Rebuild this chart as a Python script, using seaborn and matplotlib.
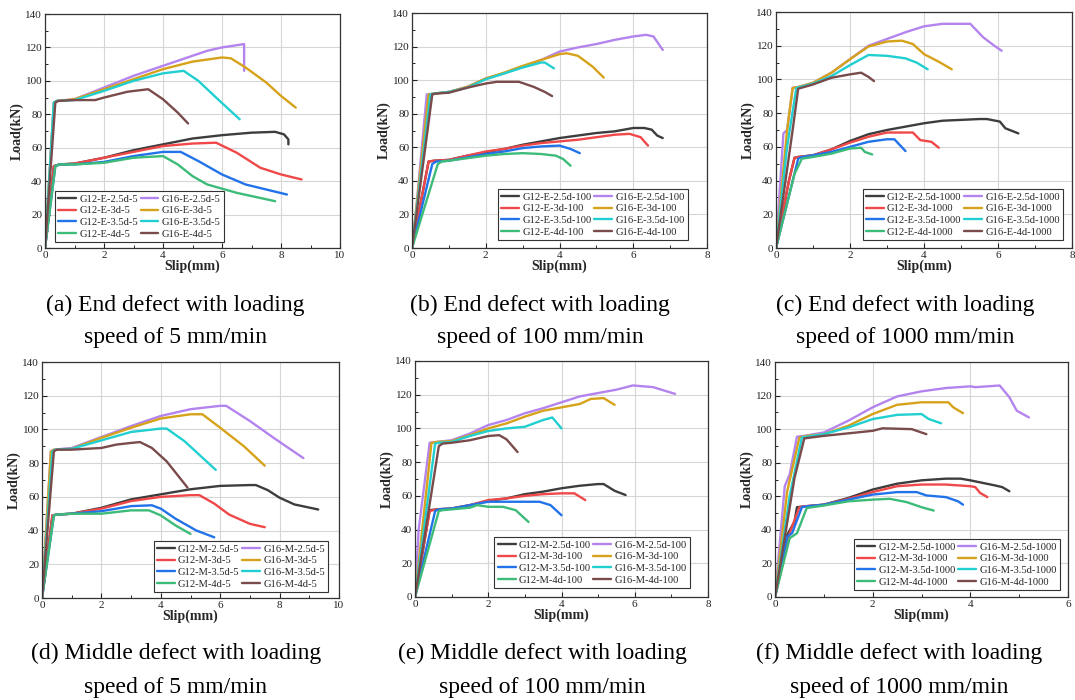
import matplotlib
matplotlib.use("Agg")
import matplotlib.pyplot as plt
from matplotlib.ticker import MultipleLocator
import seaborn as sns
import pandas as pd

# ---------------- data: (slip mm, load kN) ----------------
# (a) End defect, 5 mm/min
E5_G12_25 = [(0,0),(0.3,49),(0.5,50),(1,50.5),(2,54),(3,58.5),(4,62),(5,65.5),(6,67.5),(7,69),(7.8,69.5),(8.1,68),(8.25,65),(8.25,62)]
E5_G12_3 = [(0,0),(0.3,49),(0.5,50),(1,50.5),(2,54),(3,57.5),(4,61),(5,62.5),(5.8,63),(6.5,57),(7.3,48),(8,44),(8.7,41)]
E5_G12_35 = [(0,0),(0.35,49),(0.5,50),(1,50),(2,51.5),(3,55),(4,57.5),(4.6,57.5),(5.2,52),(6,44),(6.8,38),(7.5,35),(8.2,32)]
E5_G12_4 = [(0,0),(0.35,49),(0.5,50),(1,50),(2,51),(3,54),(4,55),(4.5,50),(5,43),(5.5,38),(6.5,33),(7.8,28)]
E5_G16_25 = [(0,0),(0.3,87),(0.4,88),(1,89),(2,96),(3,103),(4,109),(5,115),(5.5,118),(6,120),(6.75,122),(6.75,106)]
E5_G16_3 = [(0,0),(0.3,87),(0.4,88),(1,89),(2,95),(3,101),(4,107),(5,111.5),(6,114),(6.3,113.5),(6.8,108),(7.5,99),(8,91),(8.5,84)]
E5_G16_35 = [(0,0),(0.3,87),(0.4,88),(1,88.5),(2,94),(3,100),(4,104.5),(4.7,106),(5.2,100),(5.8,90),(6.6,77)]
E5_G16_4 = [(0,0),(0.35,87),(0.45,88),(1,88.5),(1.7,88.5),(2,90),(2.8,93.5),(3.5,95),(4,89),(4.5,81),(4.85,74.5)]

# (b) End defect, 100 mm/min
E100_G12_25 = [(0,0),(0.45,51.5),(0.6,52),(1,52.5),(1.5,55),(2,57),(2.5,59),(3,61.5),(3.5,63.5),(4,65.5),(4.5,67),(5,68.5),(5.5,69.5),(6,71.5),(6.3,71.5),(6.5,70.5),(6.65,67),(6.8,65.5)]
E100_G12_3 = [(0,0),(0.45,51.5),(0.6,52),(1,52.5),(1.5,55),(2,57.5),(2.5,59),(3,61),(3.5,62.5),(4,63.5),(4.5,64.5),(5,66),(5.5,67.5),(5.9,68),(6.2,66),(6.4,61)]
E100_G12_35 = [(0,0),(0.55,50),(0.65,51.5),(1,52),(1.5,54),(2,56),(2.5,57.5),(3,59.5),(3.5,60.5),(4,61),(4.3,59),(4.55,56.5)]
E100_G12_4 = [(0,0),(0.7,50),(0.8,51.5),(1,52),(1.5,53.5),(2,55),(2.5,56),(3,56.5),(3.5,56),(3.9,55),(4.1,53),(4.3,49)]
E100_G16_25 = [(0,0),(0.1,20),(0.4,91.5),(0.6,92),(1,93),(1.5,96),(2,101),(2.5,104),(3,108),(3.5,112),(4,117),(4.5,119.5),(5,121.5),(5.5,124),(6,126),(6.35,127),(6.55,126),(6.8,118)]
E100_G16_3 = [(0,0),(0.45,91.5),(0.6,92),(1,93),(1.5,96),(2,101),(2.5,104.5),(3,108.5),(3.5,112),(4,115.5),(4.2,116),(4.5,114.5),(4.9,108),(5.2,101.5)]
E100_G16_35 = [(0,0),(0.5,91.5),(0.6,92),(1,93),(1.5,95.5),(2,100.5),(2.5,104),(3,107.5),(3.5,110.5),(3.6,110.5),(3.85,107)]
E100_G16_4 = [(0,0),(0.55,91.5),(0.65,92),(1,92.5),(1.5,95.5),(2,98),(2.3,99),(2.9,99),(3.3,96),(3.6,93),(3.8,90.5)]

# (c) End defect, 1000 mm/min
E1000_G12_25 = [(0,0),(0.35,40),(0.5,53.5),(0.6,54),(1,55),(1.5,58.5),(2,63.5),(2.5,67.5),(3,70),(3.5,72),(4,74),(4.5,75.5),(5,76),(5.5,76.5),(5.7,76.5),(6.05,75),(6.2,71),(6.55,68)]
E1000_G12_3 = [(0,0),(0.35,40),(0.5,53.5),(0.6,54),(1,55),(1.5,58.5),(2,62.5),(2.5,66),(3,68.5),(3.3,68.5),(3.7,68.5),(3.9,64),(4.2,63),(4.4,59.5)]
E1000_G12_35 = [(0,0),(0.6,53),(0.7,54),(1,55),(1.5,57),(2,60),(2.5,63),(3,64.5),(3.2,64.5),(3.5,57.5)]
E1000_G12_4 = [(0,0),(0.5,44),(0.7,53),(1,54),(1.5,56),(2,59),(2.3,59.5),(2.4,57),(2.6,55.5)]
E1000_G16_25 = [(0,0),(0.2,68),(0.3,70),(0.45,95),(0.6,95.5),(1,98),(1.5,104),(2,112),(2.5,120),(3,124),(3.5,128),(4,131.5),(4.5,133),(5,133),(5.25,133),(5.6,125),(5.9,120),(6.1,117)]
E1000_G16_3 = [(0,0),(0.3,70),(0.45,95),(0.6,95.5),(1,98),(1.5,104),(2,112),(2.5,119.5),(3,122.5),(3.4,123),(3.7,121),(4,115),(4.4,110.5),(4.75,106)]
E1000_G16_35 = [(0,0),(0.3,60),(0.55,95),(0.65,95.5),(1,97.5),(1.5,102),(2,108.5),(2.5,114.5),(3,114),(3.5,112.5),(3.8,110),(4.1,106)]
E1000_G16_4 = [(0,0),(0.45,70),(0.6,94.5),(1,97),(1.5,101),(2,103),(2.3,104),(2.5,101.5),(2.65,99)]

# (d) Middle defect, 5 mm/min
M5_G12_25 = [(0,0),(0.35,49),(0.5,49.5),(1,50),(2,53.5),(3,58.5),(4,61.5),(5,64.5),(6,66.5),(7,67),(7.2,67),(7.6,64),(8,59.5),(8.5,55.5),(9.3,52.5)]
M5_G12_3 = [(0,0),(0.35,49),(0.5,49.5),(1,50),(2,53),(3,57.5),(4,60),(5,61),(5.3,61),(5.8,56),(6.3,49.5),(7,44),(7.5,42)]
M5_G12_35 = [(0,0),(0.4,49),(0.5,49.5),(1,50),(2,51.5),(3,54.5),(3.7,55),(4,53),(4.5,47),(5.2,40),(5.8,36)]
M5_G12_4 = [(0,0),(0.4,49),(0.5,49.5),(1,50),(2,50),(3,52),(3.6,52),(4,49),(4.5,43),(5,38)]
M5_G16_25 = [(0,0),(0.3,87),(0.4,88),(1,89),(2,95.5),(3,102),(4,108),(5,112),(6,114),(6.2,114),(7,105),(7.8,95),(8.8,83)]
M5_G16_3 = [(0,0),(0.3,87),(0.4,88),(1,88.5),(2,95),(3,101),(4,106.5),(5,109),(5.4,109),(6,101),(6.8,90),(7.5,78.5)]
M5_G16_35 = [(0,0),(0.35,87),(0.45,88),(1,88.5),(2,93.5),(3,98.5),(4,100.5),(4.2,100.5),(4.8,93),(5.85,76)]
M5_G16_4 = [(0,0),(0.4,87),(0.5,88),(1,88),(2,89),(2.5,91),(3,92),(3.3,92.5),(3.7,89),(4.2,81),(4.9,65.5)]

# (e) Middle defect, 100 mm/min
M100_G12_25 = [(0,0),(0.4,51.5),(0.6,52),(1,52.5),(1.5,54.5),(2,57),(2.5,58.5),(3,61),(3.5,62.5),(4,64.5),(4.5,66),(5,67),(5.15,67),(5.45,63),(5.75,60.5)]
M100_G12_3 = [(0,0),(0.4,51),(0.6,52),(1,52.5),(1.5,54.5),(2,57.5),(2.5,58.5),(3,60),(3.5,61),(4,61.5),(4.35,61.5),(4.65,57.5)]
M100_G12_35 = [(0,0),(0.55,51),(0.65,52),(1,52.5),(1.5,54.5),(2,56.5),(2.5,56.5),(3,56.5),(3.4,56.5),(3.7,54.5),(4.0,48.5)]
M100_G12_4 = [(0,0),(0.65,51),(0.75,51.5),(1,52),(1.5,53),(1.7,54.5),(2,53.5),(2.4,53.5),(2.75,51.5),(3.1,44.5)]
M100_G16_25 = [(0,0),(0.1,40),(0.4,91.5),(0.6,92),(1,93),(1.5,97),(2,102),(2.5,105),(3,109),(3.5,112),(4,115.5),(4.5,119),(5,121),(5.5,123),(5.95,125.5),(6.5,124.5),(7.1,120.5)]
M100_G16_3 = [(0,0),(0.45,91.5),(0.6,92),(1,92.5),(1.5,96),(2,100),(2.5,103),(3,107),(3.5,110.5),(4,112.5),(4.5,114.5),(4.8,117.5),(5.15,118),(5.45,114)]
M100_G16_35 = [(0,0),(0.55,91),(0.65,91.5),(1,92),(1.5,95.5),(2,98.5),(2.5,100),(3,101),(3.5,105),(3.75,106.5),(4.0,100)]
M100_G16_4 = [(0,0),(0.65,89.5),(0.75,91),(1,91.5),(1.5,93),(2,95.5),(2.3,96),(2.5,93.5),(2.8,86)]

# (f) Middle defect, 1000 mm/min
M1000_G12_25 = [(0,0),(0.25,37),(0.4,45),(0.45,53.5),(0.6,54),(1,55),(1.5,59),(2,64),(2.5,67.5),(3,69.5),(3.5,70.5),(3.8,70.5),(4,69.5),(4.5,66.5),(4.65,65.5),(4.8,63)]
M1000_G12_3 = [(0,0),(0.3,38),(0.5,53.5),(0.6,54),(1,55),(1.5,58.5),(2,62.5),(2.5,66),(3,67),(3.5,67),(4,66),(4.1,65.5),(4.2,62),(4.35,59.5)]
M1000_G12_35 = [(0,0),(0.25,36),(0.35,38),(0.55,53.5),(0.65,54),(1,55),(1.5,58),(2,61),(2.5,62.5),(2.9,62.5),(3.1,60.5),(3.5,59.5),(3.75,57),(3.85,55)]
M1000_G12_4 = [(0,0),(0.3,35),(0.45,38),(0.65,53),(1,54.5),(1.5,57),(2,58),(2.35,58.5),(2.7,56.5),(3.0,53.5),(3.25,51.5)]
M1000_G16_25 = [(0,0),(0.2,66),(0.3,73),(0.45,95.5),(0.6,96),(1,98),(1.5,105),(2,113),(2.5,119.5),(3,122.5),(3.5,124.5),(4,125.5),(4.1,125),(4.6,126),(4.8,119),(4.95,111),(5.2,107)]
M1000_G16_3 = [(0,0),(0.25,63),(0.5,95),(0.65,96),(1,97),(1.5,102),(2,109),(2.5,114.5),(3,116),(3.45,116),(3.55,116),(3.65,113),(3.85,109.5)]
M1000_G16_35 = [(0,0),(0.3,60),(0.55,95),(0.65,95.5),(1,97),(1.5,101),(2,106),(2.5,108.5),(3,109),(3.15,106),(3.4,103.5)]
M1000_G16_4 = [(0,0),(0.4,71),(0.6,94.5),(1,96),(1.5,97.5),(2,99),(2.2,100.5),(2.8,100),(3.1,97)]

# legend order (column-major, 2 columns): G12 series in column 1, G16 series in column 2
series_names = ["G12-{d}-2.5d-{s}", "G12-{d}-3d-{s}", "G12-{d}-3.5d-{s}", "G12-{d}-4d-{s}",
                "G16-{d}-2.5d-{s}", "G16-{d}-3d-{s}", "G16-{d}-3.5d-{s}", "G16-{d}-4d-{s}"]
colors = ["#3d3d3d", "#f04848", "#2273ea", "#3dbb78",
          "#b484ee", "#d6a21a", "#22cfd0", "#7a4b4b"]

panels = [
    ("E", "5", [E5_G12_25, E5_G12_3, E5_G12_35, E5_G12_4, E5_G16_25, E5_G16_3, E5_G16_35, E5_G16_4], 10,
     ("(a) End defect with loading", "speed of 5 mm/min")),
    ("E", "100", [E100_G12_25, E100_G12_3, E100_G12_35, E100_G12_4, E100_G16_25, E100_G16_3, E100_G16_35, E100_G16_4], 8,
     ("(b) End defect with loading", "speed of 100 mm/min")),
    ("E", "1000", [E1000_G12_25, E1000_G12_3, E1000_G12_35, E1000_G12_4, E1000_G16_25, E1000_G16_3, E1000_G16_35, E1000_G16_4], 8,
     ("(c) End defect with loading", "speed of 1000 mm/min")),
    ("M", "5", [M5_G12_25, M5_G12_3, M5_G12_35, M5_G12_4, M5_G16_25, M5_G16_3, M5_G16_35, M5_G16_4], 10,
     ("(d) Middle defect with loading", "speed of 5 mm/min")),
    ("M", "100", [M100_G12_25, M100_G12_3, M100_G12_35, M100_G12_4, M100_G16_25, M100_G16_3, M100_G16_35, M100_G16_4], 8,
     ("(e) Middle defect with loading", "speed of 100 mm/min")),
    ("M", "1000", [M1000_G12_25, M1000_G12_3, M1000_G12_35, M1000_G12_4, M1000_G16_25, M1000_G16_3, M1000_G16_35, M1000_G16_4], 6,
     ("(f) Middle defect with loading", "speed of 1000 mm/min")),
]

sns.set_theme(style="whitegrid")
plt.rcParams["font.family"] = ["Liberation Serif", "DejaVu Serif"]
plt.rcParams["grid.color"] = "#d6d6d6"

fig = plt.figure(figsize=(10.75, 7.0), dpi=100)
W, H = 1075, 700
# axes boxes in pixel coords: left, top, right, bottom
boxes = [(45, 14, 340, 248), (412, 13, 707, 248), (776, 12, 1072, 248),
         (42, 362, 339, 598), (415, 361, 708, 597), (775, 362, 1068, 597)]
# legend corner gaps in pixels (horizontal gap, bottom gap)
leg_gaps = [(10, 6), (19, 8), (9, 8), (11, 6), (18, 9), (8, 7)]
caption_cx = [175, 540, 905, 176, 542, 899]
caption_y1 = [305, 305, 305, 653, 653, 653]
caption_y2 = [337, 337, 337, 687, 687, 687]

for i, (d, s, curves, xmax, cap) in enumerate(panels):
    l, t, r, b = boxes[i]
    aw, ah = r - l, b - t
    ax = fig.add_axes([l / W, 1 - b / H, aw / W, ah / H])
    for name_t, pts, c in zip(series_names, curves, colors):
        df = pd.DataFrame(pts, columns=["Slip", "Load"])
        sns.lineplot(data=df, x="Slip", y="Load", ax=ax, sort=False, estimator=None,
                     color=c, lw=1.7, label=name_t.format(d=d, s=s))
    ax.set_xlim(0, xmax)
    ax.set_ylim(0, 140)
    ax.xaxis.set_major_locator(MultipleLocator(2))
    ax.xaxis.set_minor_locator(MultipleLocator(1))
    ax.yaxis.set_major_locator(MultipleLocator(20))
    ax.yaxis.set_minor_locator(MultipleLocator(10))
    ax.tick_params(which="major", direction="in", length=3.5, width=0.8, labelsize=8,
                   pad=2, colors="#222222", bottom=True, left=True)
    ax.tick_params(which="minor", direction="in", length=2, width=0.7,
                   colors="#222222", bottom=True, left=True)
    ax.set_xlabel("Slip(mm)", fontsize=10, fontweight="bold", labelpad=0)
    ax.set_ylabel("Load(kN)", fontsize=10, fontweight="bold", labelpad=1)
    for sp in ax.spines.values():
        sp.set_linewidth(0.9)
        sp.set_color("#333333")
    ax.grid(True, which="major", lw=0.8)
    ax.grid(False, which="minor")
    gx, gy = leg_gaps[i]
    if i == 0:
        loc, anchor = "lower left", (gx / aw, gy / ah)
    else:
        loc, anchor = "lower right", (1 - gx / aw, gy / ah)
    leg = ax.legend(loc=loc, bbox_to_anchor=anchor, ncol=2, fontsize=7.6, frameon=True,
                    fancybox=False, edgecolor="#333333", framealpha=1, handlelength=1.7,
                    handletextpad=0.3, columnspacing=0.25, labelspacing=0.22, borderpad=0.3,
                    borderaxespad=0)
    leg.get_frame().set_linewidth(0.8)
    fig.text(caption_cx[i] / W, 1 - caption_y1[i] / H, cap[0], ha="center", va="center",
             fontsize=17, color="black")
    fig.text(caption_cx[i] / W, 1 - caption_y2[i] / H, cap[1], ha="center", va="center",
             fontsize=17, color="black")

fig.savefig("out.png", dpi=100)
